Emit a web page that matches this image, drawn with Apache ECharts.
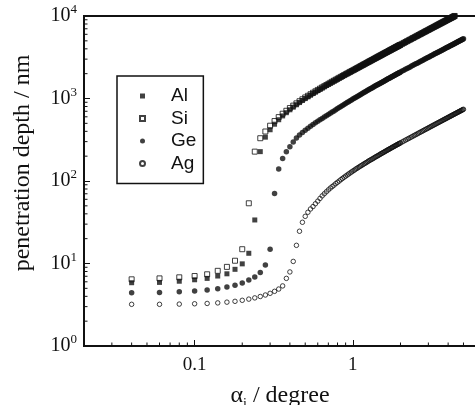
<!DOCTYPE html>
<html>
<head>
<meta charset="utf-8">
<script src="https://cdn.jsdelivr.net/npm/echarts@6.0.0/dist/echarts.min.js"></script>
<style>
  html, body { margin: 0; padding: 0; background: #fff; }
  #chart { width: 475px; height: 405px; }
</style>
</head>
<body>
<div id="chart"></div>
<script>
// incidence angle, degrees (shared by all four series)
const angles = [
  0.04, 0.06, 0.08, 0.10, 0.12, 0.14, 0.16, 0.18, 0.20, 0.22,
  0.24, 0.26, 0.28, 0.30, 0.32, 0.34, 0.36, 0.38, 0.40, 0.42,
  0.44, 0.46, 0.48, 0.50, 0.52, 0.54, 0.56, 0.58, 0.60, 0.62,
  0.64, 0.66, 0.68, 0.70, 0.72, 0.74, 0.76, 0.78, 0.80, 0.82,
  0.84, 0.86, 0.88, 0.90, 0.92, 0.94, 0.96, 0.98, 1.00,
  1.02, 1.04, 1.06, 1.08, 1.10, 1.12, 1.14, 1.16, 1.18, 1.20,
  1.22, 1.24, 1.26, 1.28, 1.30, 1.32, 1.34, 1.36, 1.38, 1.40,
  1.42, 1.44, 1.46, 1.48, 1.50, 1.52, 1.54, 1.56, 1.58, 1.60,
  1.62, 1.64, 1.66, 1.68, 1.70, 1.72, 1.74, 1.76, 1.78, 1.80,
  1.82, 1.84, 1.86, 1.88, 1.90, 1.92, 1.94, 1.96, 1.98, 2.00,
  2.05, 2.10, 2.15, 2.20, 2.25, 2.30, 2.35, 2.40, 2.45, 2.50,
  2.55, 2.60, 2.65, 2.70, 2.75, 2.80, 2.85, 2.90, 2.95, 3.00,
  3.05, 3.10, 3.15, 3.20, 3.25, 3.30, 3.35, 3.40, 3.45, 3.50,
  3.55, 3.60, 3.65, 3.70, 3.75, 3.80, 3.85, 3.90, 3.95, 4.00,
  4.05, 4.10, 4.15, 4.20, 4.25, 4.30, 4.35, 4.40, 4.45, 4.50,
  4.55, 4.60, 4.65, 4.70, 4.75, 4.80, 4.85, 4.90, 4.95, 5.00
];

// penetration depth, nm
const alDepth = [
  5.85, 5.9, 6.1, 6.35, 6.6, 7.05, 7.5, 8.5, 9.9, 13.3,
  33.7, 227, 340, 418, 488, 553, 615, 673, 730, 785,
  840, 893, 946, 998, 1048, 1098, 1148, 1197, 1246, 1294,
  1342, 1390, 1438, 1486, 1533, 1580, 1627, 1674, 1721, 1768,
  1815, 1861, 1907, 1953, 1999, 2045, 2091, 2137, 2183,
  2229, 2275, 2321, 2367, 2413, 2459, 2505, 2551, 2597, 2643,
  2689, 2735, 2781, 2827, 2873, 2919, 2965, 3011, 3057, 3103,
  3149, 3195, 3241, 3287, 3333, 3379, 3425, 3471, 3517, 3563,
  3609, 3655, 3701, 3747, 3793, 3839, 3885, 3931, 3977, 4023,
  4069, 4115, 4161, 4207, 4253, 4299, 4345, 4391, 4437, 4483,
  4595, 4710, 4825, 4940, 5055, 5170, 5285, 5400, 5515, 5630,
  5745, 5860, 5975, 6090, 6205, 6320, 6435, 6550, 6665, 6780,
  6895, 7010, 7125, 7240, 7355, 7470, 7585, 7700, 7815, 7930,
  8045, 8160, 8275, 8390, 8505, 8620, 8735, 8850, 8965, 9080,
  9195, 9310, 9425, 9540, 9655, 9770, 9885, 10000, 10115, 10230,
  10345, 10460, 10575, 10690, 10805, 10920, 11035, 11150, 11265, 11380
];
const siDepth = [
  6.43, 6.6, 6.8, 7.05, 7.4, 8.15, 9.1, 10.8, 14.9, 53.7,
  227, 330, 398, 468, 533, 595, 654, 710, 766, 820,
  873, 926, 978, 1030, 1078, 1126, 1174, 1222, 1270, 1317,
  1364, 1411, 1458, 1505, 1552, 1599, 1645, 1691, 1737, 1783,
  1829, 1875, 1921, 1967, 2012, 2057, 2102, 2147, 2190,
  2236, 2282, 2328, 2374, 2420, 2466, 2512, 2558, 2604, 2650,
  2696, 2742, 2788, 2834, 2880, 2926, 2972, 3018, 3064, 3110,
  3156, 3202, 3248, 3294, 3340, 3386, 3432, 3478, 3524, 3570,
  3616, 3662, 3708, 3754, 3800, 3846, 3892, 3938, 3984, 4030,
  4076, 4122, 4168, 4214, 4260, 4306, 4352, 4398, 4444, 4490,
  4605, 4720, 4835, 4950, 5065, 5180, 5295, 5410, 5525, 5640,
  5755, 5870, 5985, 6100, 6215, 6330, 6445, 6560, 6675, 6790,
  6905, 7020, 7135, 7250, 7365, 7480, 7595, 7710, 7825, 7940,
  8055, 8170, 8285, 8400, 8515, 8630, 8745, 8860, 8975, 9090,
  9205, 9320, 9435, 9550, 9665, 9780, 9895, 10010, 10125, 10240,
  10355, 10470, 10585, 10700, 10815, 10930, 11045, 11160, 11275, 11390
];
const geDepth = [
  4.43, 4.45, 4.55, 4.64, 4.77, 4.95, 5.19, 5.45, 5.8, 6.3,
  6.85, 7.8, 9.6, 14.9, 70.5, 140, 188, 227, 260, 297,
  331, 360, 387, 412, 437, 461, 484, 507, 530, 552,
  574, 596, 618, 640, 662, 684, 706, 730, 754, 778,
  801, 824, 847, 870, 893, 916, 939, 962, 985,
  1008, 1030, 1053, 1075, 1098, 1120, 1143, 1165, 1188, 1210,
  1233, 1255, 1278, 1300, 1323, 1345, 1368, 1390, 1413, 1435,
  1457, 1479, 1501, 1523, 1545, 1567, 1589, 1611, 1633, 1655,
  1677, 1699, 1721, 1743, 1765, 1787, 1809, 1831, 1853, 1875,
  1897, 1919, 1941, 1963, 1985, 2007, 2029, 2051, 2073, 2095,
  2148, 2202, 2255, 2309, 2362, 2416, 2469, 2523, 2576, 2630,
  2683, 2737, 2790, 2844, 2897, 2950, 3003, 3056, 3109, 3162,
  3215, 3268, 3321, 3374, 3427, 3480, 3533, 3586, 3639, 3692,
  3745, 3798, 3851, 3904, 3957, 4010, 4063, 4116, 4169, 4222,
  4275, 4328, 4381, 4434, 4487, 4540, 4593, 4646, 4699, 4752,
  4805, 4858, 4911, 4964, 5017, 5070, 5123, 5176, 5229, 5282
];
const agDepth = [
  3.2, 3.2, 3.22, 3.25, 3.28, 3.33, 3.4, 3.48, 3.58, 3.7,
  3.83, 3.98, 4.15, 4.35, 4.6, 4.9, 5.35, 6.6, 7.9, 10.6,
  16.6, 24.6, 31.6, 37.3, 41.8, 45.8, 49, 53, 57, 61.5,
  66, 70, 74, 78, 82, 85.5, 89, 93, 96.5, 100,
  104, 107.5, 111, 114.5, 118, 121.5, 125, 128.5, 132,
  135, 139, 142, 145.5, 149, 152, 155, 158.5, 162, 165,
  168, 171.5, 175, 178, 181, 184, 187, 190.5, 194, 197,
  200, 203, 206, 209.5, 213, 216, 219, 222, 225, 228.5,
  231.5, 234.5, 238, 241, 244, 247, 250, 253.5, 256.5, 259.5,
  262.5, 265.5, 269, 272, 275, 278, 281, 284, 287, 290,
  297.5, 305, 312.5, 320, 327.5, 335, 342.5, 350, 357.5, 365,
  372.5, 380, 387.5, 395, 402.5, 410, 417.5, 425, 432.5, 440,
  447.5, 455, 462.5, 470, 477.5, 485, 492.5, 500, 507.5, 515,
  522.5, 530, 537.5, 545, 552.5, 560, 567.5, 575, 582.5, 590,
  597.5, 605, 612.5, 620, 627.5, 635, 642.5, 650, 657.5, 665,
  672.5, 680, 687.5, 695, 702.5, 710, 717.5, 725, 732.5, 740
];

// minor tick positions of the two log axes
const xMinorTicks = [0.03, 0.04, 0.05, 0.06, 0.07, 0.08, 0.09,
  0.2, 0.3, 0.4, 0.5, 0.6, 0.7, 0.8, 0.9, 2, 3, 4, 5];
const yMinorTicks = [2, 3, 4, 5, 6, 7, 8, 9,
  20, 30, 40, 50, 60, 70, 80, 90,
  200, 300, 400, 500, 600, 700, 800, 900,
  2000, 3000, 4000, 5000, 6000, 7000, 8000, 9000];

const X_MIN = 0.02, X_MAX = 6, Y_MIN = 1, Y_MAX = 10000;
const INK = '#111';
const SERIF = 'Liberation Serif';

function points(name, depth, symbol, size, filled) {
  return {
    name: name,
    type: 'scatter',
    symbol: symbol,
    symbolSize: size,
    data: angles.map((a, i) => [a, depth[i]]),
    itemStyle: filled
      ? { color: INK }
      : { color: 'rgba(255,255,255,0)', borderColor: INK, borderWidth: 1 },
    emphasis: { disabled: true },
    clip: true
  };
}

// minor ticks are drawn through the axes' own coord()
function minorTicks(values, onX) {
  return {
    type: 'custom',
    silent: true,
    data: values.map(v => onX ? [v, Y_MIN] : [X_MIN, v]),
    renderItem: function (params, api) {
      const p = api.coord([api.value(0), api.value(1)]);
      return {
        type: 'line',
        shape: onX
          ? { x1: p[0], y1: p[1], x2: p[0], y2: p[1] - 3.5 }
          : { x1: p[0], y1: p[1], x2: p[0] + 3.5, y2: p[1] },
        style: { stroke: INK, lineWidth: 1 }
      };
    }
  };
}

let chart = echarts.init(document.getElementById('chart'));

let option = {
  animation: false,
  backgroundColor: '#fff',
  grid: {
    left: 84, top: 16, width: 392, height: 330,
    outerBoundsMode: 'none',
    show: true, borderColor: INK, borderWidth: 2
  },
  legend: {
    orient: 'vertical',
    left: 117, top: 76,
    itemWidth: 5, itemHeight: 5, itemGap: 2.5,
    padding: [10, 7, 10, 22],
    borderColor: INK, borderWidth: 1.5,
    selectedMode: false,
    data: ['Al', 'Si', 'Ge', 'Ag'],
    textStyle: {
      fontFamily: 'Liberation Sans', fontSize: 19, color: INK,
      lineHeight: 20, padding: [0, 0, 0, 21]
    }
  },
  xAxis: {
    type: 'log', logBase: 10, min: X_MIN, max: X_MAX,
    name: '{a|α}{s|i}{a| / degree}',
    nameLocation: 'middle', nameGap: 35,
    nameTextStyle: {
      rich: {
        a: { fontFamily: SERIF, fontSize: 24, color: INK, lineHeight: 30 },
        s: { fontFamily: SERIF, fontSize: 14, color: INK, lineHeight: 14, verticalAlign: 'bottom' }
      }
    },
    axisLine: { show: false },
    axisTick: { inside: true, length: 6, lineStyle: { color: INK, width: 1 } },
    axisLabel: {
      showMinLabel: false, showMaxLabel: false, margin: 10,
      fontFamily: SERIF, fontSize: 19, color: INK,
      formatter: function (v) {
        const e = Math.round(Math.log10(v));
        if (Math.abs(Math.log10(v) - e) > 1e-6) return '';
        return e < 0 ? Math.pow(10, e).toFixed(-e) : String(Math.pow(10, e));
      }
    },
    splitLine: { show: false }
  },
  yAxis: {
    type: 'log', logBase: 10, min: Y_MIN, max: Y_MAX,
    name: 'penetration depth / nm',
    nameLocation: 'middle', nameGap: 49,
    nameTextStyle: { fontFamily: SERIF, fontSize: 24, color: INK, padding: [0, 0, 0, 36] },
    axisLine: { show: false },
    axisTick: { inside: true, length: 6, lineStyle: { color: INK, width: 1 } },
    axisLabel: {
      margin: 7,
      formatter: function (v) {
        return '{b|10}{s|' + Math.round(Math.log10(v)) + '}';
      },
      rich: {
        b: { fontFamily: SERIF, fontSize: 20, color: INK, lineHeight: 25 },
        s: { fontFamily: SERIF, fontSize: 13, color: INK, lineHeight: 13, verticalAlign: 'top' }
      }
    },
    splitLine: { show: false }
  },
  series: [
    points('Al', alDepth, 'rect', 5, true),
    points('Si', siDepth, 'rect', 5, false),
    points('Ge', geDepth, 'circle', 5.5, true),
    points('Ag', agDepth, 'circle', 4.5, false),
    minorTicks(xMinorTicks, true),
    minorTicks(yMinorTicks, false)
  ]
};

chart.setOption(option);
</script>
</body>
</html>
